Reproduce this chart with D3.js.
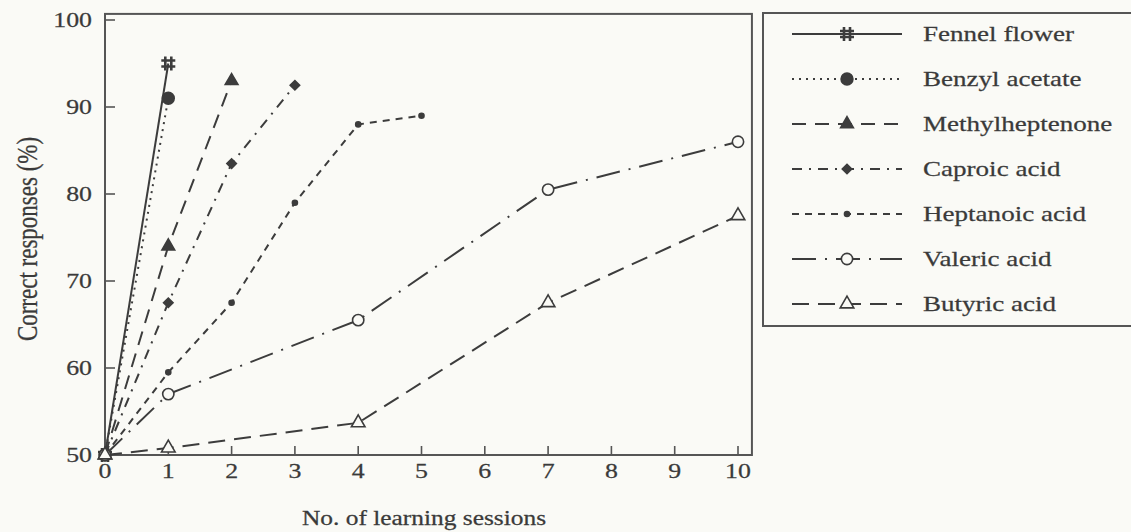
<!DOCTYPE html>
<head>
  <script src="https://cdn.jsdelivr.net/npm/d3@7/dist/d3.min.js"></script>
  <title>Correct responses vs learning sessions</title>
  <style>
    html, body { margin: 0; background-color: #fafaf6; }
    svg { display: block; }
    text { font-family: "Liberation Serif", "Times New Roman", serif; fill: #3a3a3a; stroke: #3a3a3a; stroke-width: 0.25; }
  </style>
</head>
<div id="chart"></div>
<script>
  // values
  const seriesNames = ["Fennel flower", "Benzyl acetate", "Methylheptenone", "Caproic acid",
                       "Heptanoic acid", "Valeric acid", "Butyric acid"];
  const fennelSessions = [0, 1];
  const fennelValues = [50, 95];
  const benzylSessions = [0, 1];
  const benzylValues = [50, 91];
  const methylSessions = [0, 1, 2];
  const methylValues = [50, 74, 93];
  const caproicSessions = [0, 1, 2, 3];
  const caproicValues = [50, 67.5, 83.5, 92.5];
  const heptanoicSessions = [0, 1, 2, 3, 4, 5];
  const heptanoicValues = [50, 59.5, 67.5, 79, 88, 89];
  const valericSessions = [0, 1, 4, 7, 10];
  const valericValues = [50, 57, 65.5, 80.5, 86];
  const butyricSessions = [0, 1, 4, 7, 10];
  const butyricValues = [50, 50.8, 53.7, 67.5, 77.5];
  const xTicks = [0, 1, 2, 3, 4, 5, 6, 7, 8, 9, 10];
  const yTicks = [50, 60, 70, 80, 90, 100];

  const series = [
    [fennelSessions, fennelValues],
    [benzylSessions, benzylValues],
    [methylSessions, methylValues],
    [caproicSessions, caproicValues],
    [heptanoicSessions, heptanoicValues],
    [valericSessions, valericValues],
    [butyricSessions, butyricValues]
  ].map(([xs, ys], i) => ({name: seriesNames[i], points: xs.map((x, j) => ({x: x, y: ys[j]}))}));

  // line and marker look for each series
  const styles = {
    "Fennel flower":   {dash: null,          marker: "hash"},
    "Benzyl acetate":  {dash: "2,5",         marker: "circle",   fill: true,  size: 110},
    "Methylheptenone": {dash: "14,9",        marker: "triangle", fill: true,  size: 70},
    "Caproic acid":    {dash: "10,7,2,7",    marker: "square",   fill: true,  size: 45, rot: 45},
    "Heptanoic acid":  {dash: "7,6",         marker: "circle",   fill: true,  size: 20},
    "Valeric acid":    {dash: "24,9,2,9",    marker: "circle",   fill: false, size: 100},
    "Butyric acid":    {dash: "17,9",        marker: "triangle", fill: false, size: 80}
  };

  const width = 1131, height = 532;
  const ink = "#3c3c3c";
  const sx = 1.23; // the scan is stretched sideways

  const x = d3.scaleLinear().domain([0, 10]).range([105, 738]);
  const y = d3.scaleLinear().domain([50, 100]).range([455, 20]);
  const xMax = 10.22, yMax = 100.7;

  const svg = d3.select("#chart").append("svg").attr("width", width).attr("height", height);

  const label = (g, px, py, str, anchor, size, k) =>
    g.append("text")
      .attr("transform", `translate(${px},${py}) scale(${k || sx},1)`)
      .attr("text-anchor", anchor)
      .attr("font-size", size)
      .text(str);

  // frame
  svg.append("rect")
    .attr("x", x(0)).attr("y", y(yMax))
    .attr("width", x(xMax) - x(0)).attr("height", y(50) - y(yMax))
    .attr("fill", "none").attr("stroke", "#555").attr("stroke-width", 2);

  // inward ticks
  const axes = svg.append("g").attr("stroke", "#555").attr("stroke-width", 1.6);
  axes.selectAll(".yt").data(yTicks).join("line")
    .attr("x1", x(0)).attr("x2", x(0) + 10)
    .attr("y1", d => y(d)).attr("y2", d => y(d));
  axes.selectAll(".xt").data(xTicks.slice(1)).join("line")
    .attr("x1", d => x(d)).attr("x2", d => x(d))
    .attr("y1", y(50)).attr("y2", y(50) - 9);

  const tl = svg.append("g");
  yTicks.forEach(d => label(tl, 92, y(d) + 7, d, "end", 21));
  xTicks.forEach(d => label(tl, x(d), 478, d, "middle", 21));

  label(svg, 424, 525, "No. of learning sessions", "middle", 20, 1.27);
  svg.append("text")
    .attr("transform", `translate(37,239) rotate(-90) scale(1,1.25)`)
    .attr("text-anchor", "middle")
    .attr("font-size", 23)
    .text("Correct responses (%)");

  const line = d3.line().x(d => x(d.x)).y(d => y(d.y));

  function marker(g, st, px, py) {
    if (st.marker === "hash") {
      g.append("path")
        .attr("d", `M${px - 3},${py - 7}V${py + 7}M${px + 3},${py - 7}V${py + 7}` +
                   `M${px - 7},${py - 3}H${px + 7}M${px - 7},${py + 3}H${px + 7}`)
        .attr("stroke", ink).attr("stroke-width", 2.6).attr("fill", "none");
      return;
    }
    const type = {circle: d3.symbolCircle, triangle: d3.symbolTriangle, square: d3.symbolSquare}[st.marker];
    g.append("path")
      .attr("transform", `translate(${px},${py}) rotate(${st.rot || 0})`)
      .attr("d", d3.symbol(type, st.size)())
      .attr("fill", st.fill ? ink : "#fafaf6")
      .attr("stroke", ink).attr("stroke-width", 1.6);
  }

  const plot = svg.append("g");
  series.forEach(s => {
    const st = styles[s.name];
    plot.append("path")
      .datum(s.points)
      .attr("d", line)
      .attr("fill", "none")
      .attr("stroke", ink)
      .attr("stroke-width", 2)
      .attr("stroke-dasharray", st.dash);
  });
  series.forEach(s => {
    const st = styles[s.name];
    s.points.forEach(p => marker(plot, st, x(p.x), y(p.y)));
  });

  // legend
  const lg = svg.append("g");
  lg.append("rect")
    .attr("x", 763).attr("y", 13).attr("width", 400).attr("height", 313)
    .attr("fill", "none").attr("stroke", "#555").attr("stroke-width", 2);
  series.forEach((s, i) => {
    const st = styles[s.name];
    const cy = 34 + i * 45;
    lg.append("line")
      .attr("x1", 792).attr("x2", 902).attr("y1", cy).attr("y2", cy)
      .attr("stroke", ink).attr("stroke-width", 2)
      .attr("stroke-dasharray", st.dash);
    marker(lg, st, 847, cy);
    label(lg, 923, cy + 7, s.name, "start", 22);
  });
</script>
